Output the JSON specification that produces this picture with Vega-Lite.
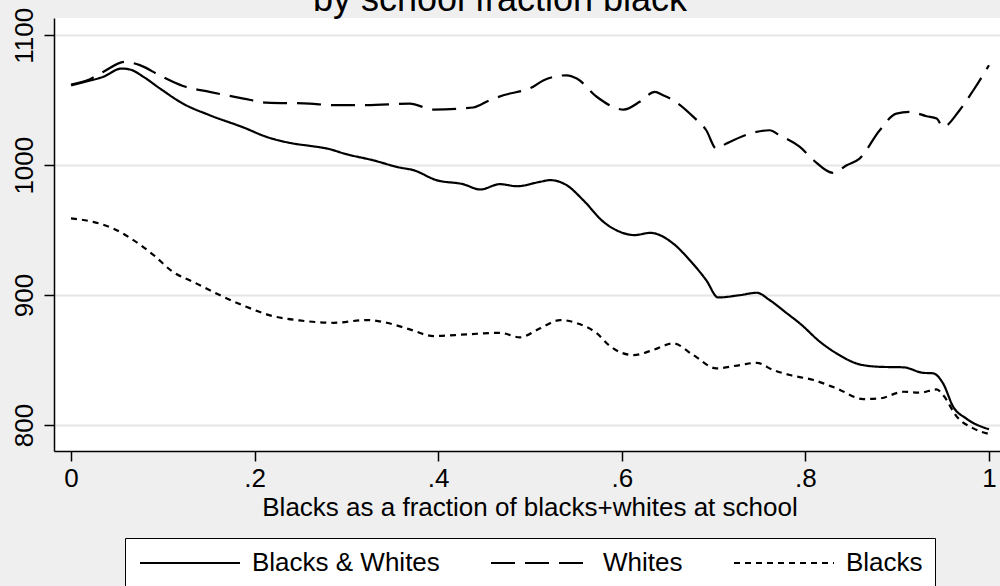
{
  "$schema": "https://vega.github.io/schema/vega-lite/v6.json",
  "autosize": {"type": "none"},
  "width": 946,
  "height": 433,
  "padding": {"left": 54, "top": 18, "right": 0, "bottom": 135},
  "background": "#efefef",
  "title": {
    "text": "by school fraction black",
    "font": "Liberation Sans",
    "fontSize": 36,
    "fontWeight": "normal",
    "color": "black",
    "anchor": "middle",
    "frame": "group",
    "baseline": "alphabetic",
    "dx": -27,
    "offset": -40
  },
  "config": {
    "view": {"fill": "white", "stroke": null},
    "font": "Liberation Sans",
    "axis": {
      "domainColor": "black",
      "domainWidth": 1.5,
      "tickColor": "black",
      "tickWidth": 1.5,
      "tickSize": 10,
      "labelFont": "Liberation Sans",
      "labelFontSize": 26,
      "labelColor": "black",
      "labelFlush": false,
      "labelOverlap": false,
      "titleFont": "Liberation Sans",
      "titleFontSize": 26,
      "titleFontWeight": "normal",
      "titleColor": "black"
    }
  },
  "data": {
    "values": [
      {"series": "Blacks & Whites", "frac": 0.000, "score": 1061.5},
      {"series": "Blacks & Whites", "frac": 0.020, "score": 1065},
      {"series": "Blacks & Whites", "frac": 0.035, "score": 1068},
      {"series": "Blacks & Whites", "frac": 0.055, "score": 1074.4},
      {"series": "Blacks & Whites", "frac": 0.065, "score": 1073.5},
      {"series": "Blacks & Whites", "frac": 0.079, "score": 1068},
      {"series": "Blacks & Whites", "frac": 0.097, "score": 1059},
      {"series": "Blacks & Whites", "frac": 0.122, "score": 1047.4},
      {"series": "Blacks & Whites", "frac": 0.151, "score": 1038.5},
      {"series": "Blacks & Whites", "frac": 0.188, "score": 1029},
      {"series": "Blacks & Whites", "frac": 0.213, "score": 1021.8},
      {"series": "Blacks & Whites", "frac": 0.242, "score": 1016.7},
      {"series": "Blacks & Whites", "frac": 0.260, "score": 1014.9},
      {"series": "Blacks & Whites", "frac": 0.279, "score": 1012.8},
      {"series": "Blacks & Whites", "frac": 0.300, "score": 1008.5},
      {"series": "Blacks & Whites", "frac": 0.329, "score": 1003.8},
      {"series": "Blacks & Whites", "frac": 0.358, "score": 998.2},
      {"series": "Blacks & Whites", "frac": 0.373, "score": 996.2},
      {"series": "Blacks & Whites", "frac": 0.398, "score": 988.5},
      {"series": "Blacks & Whites", "frac": 0.427, "score": 985.4},
      {"series": "Blacks & Whites", "frac": 0.446, "score": 981.3},
      {"series": "Blacks & Whites", "frac": 0.467, "score": 985.4},
      {"series": "Blacks & Whites", "frac": 0.486, "score": 983.8},
      {"series": "Blacks & Whites", "frac": 0.511, "score": 987.2},
      {"series": "Blacks & Whites", "frac": 0.522, "score": 988.5},
      {"series": "Blacks & Whites", "frac": 0.540, "score": 984.6},
      {"series": "Blacks & Whites", "frac": 0.558, "score": 973.1},
      {"series": "Blacks & Whites", "frac": 0.580, "score": 956.4},
      {"series": "Blacks & Whites", "frac": 0.598, "score": 948.7},
      {"series": "Blacks & Whites", "frac": 0.614, "score": 946.2},
      {"series": "Blacks & Whites", "frac": 0.631, "score": 947.9},
      {"series": "Blacks & Whites", "frac": 0.656, "score": 939.7},
      {"series": "Blacks & Whites", "frac": 0.674, "score": 926.9},
      {"series": "Blacks & Whites", "frac": 0.692, "score": 911.5},
      {"series": "Blacks & Whites", "frac": 0.705, "score": 898.2},
      {"series": "Blacks & Whites", "frac": 0.729, "score": 900},
      {"series": "Blacks & Whites", "frac": 0.747, "score": 901.8},
      {"series": "Blacks & Whites", "frac": 0.761, "score": 896.2},
      {"series": "Blacks & Whites", "frac": 0.780, "score": 885.9},
      {"series": "Blacks & Whites", "frac": 0.794, "score": 878.2},
      {"series": "Blacks & Whites", "frac": 0.816, "score": 864},
      {"series": "Blacks & Whites", "frac": 0.834, "score": 855.1},
      {"series": "Blacks & Whites", "frac": 0.859, "score": 846.7},
      {"series": "Blacks & Whites", "frac": 0.881, "score": 844.8},
      {"series": "Blacks & Whites", "frac": 0.907, "score": 844.4},
      {"series": "Blacks & Whites", "frac": 0.928, "score": 840.2},
      {"series": "Blacks & Whites", "frac": 0.939, "score": 839.8},
      {"series": "Blacks & Whites", "frac": 0.950, "score": 832},
      {"series": "Blacks & Whites", "frac": 0.961, "score": 814.1},
      {"series": "Blacks & Whites", "frac": 0.975, "score": 805.1},
      {"series": "Blacks & Whites", "frac": 1.000, "score": 796.7},

      {"series": "Whites", "frac": 0.000, "score": 1062},
      {"series": "Whites", "frac": 0.020, "score": 1066},
      {"series": "Whites", "frac": 0.035, "score": 1071.8},
      {"series": "Whites", "frac": 0.059, "score": 1079.5},
      {"series": "Whites", "frac": 0.075, "score": 1077},
      {"series": "Whites", "frac": 0.097, "score": 1069},
      {"series": "Whites", "frac": 0.122, "score": 1061},
      {"series": "Whites", "frac": 0.151, "score": 1056.4},
      {"series": "Whites", "frac": 0.188, "score": 1051.3},
      {"series": "Whites", "frac": 0.213, "score": 1048.2},
      {"series": "Whites", "frac": 0.260, "score": 1047.4},
      {"series": "Whites", "frac": 0.285, "score": 1046.2},
      {"series": "Whites", "frac": 0.322, "score": 1046.2},
      {"series": "Whites", "frac": 0.369, "score": 1047.4},
      {"series": "Whites", "frac": 0.395, "score": 1042.8},
      {"series": "Whites", "frac": 0.438, "score": 1044.4},
      {"series": "Whites", "frac": 0.456, "score": 1050},
      {"series": "Whites", "frac": 0.471, "score": 1053.8},
      {"series": "Whites", "frac": 0.503, "score": 1060.2},
      {"series": "Whites", "frac": 0.515, "score": 1065.4},
      {"series": "Whites", "frac": 0.540, "score": 1069.2},
      {"series": "Whites", "frac": 0.551, "score": 1066.7},
      {"series": "Whites", "frac": 0.573, "score": 1052.5},
      {"series": "Whites", "frac": 0.602, "score": 1042.8},
      {"series": "Whites", "frac": 0.620, "score": 1049},
      {"series": "Whites", "frac": 0.636, "score": 1056.4},
      {"series": "Whites", "frac": 0.645, "score": 1053.8},
      {"series": "Whites", "frac": 0.656, "score": 1050},
      {"series": "Whites", "frac": 0.678, "score": 1037.2},
      {"series": "Whites", "frac": 0.692, "score": 1026.9},
      {"series": "Whites", "frac": 0.703, "score": 1012.8},
      {"series": "Whites", "frac": 0.714, "score": 1016.7},
      {"series": "Whites", "frac": 0.740, "score": 1024.4},
      {"series": "Whites", "frac": 0.761, "score": 1026.9},
      {"series": "Whites", "frac": 0.772, "score": 1023},
      {"series": "Whites", "frac": 0.794, "score": 1014.1},
      {"series": "Whites", "frac": 0.809, "score": 1003.8},
      {"series": "Whites", "frac": 0.830, "score": 994.1},
      {"series": "Whites", "frac": 0.845, "score": 1000},
      {"series": "Whites", "frac": 0.859, "score": 1005.1},
      {"series": "Whites", "frac": 0.881, "score": 1026.9},
      {"series": "Whites", "frac": 0.899, "score": 1039.7},
      {"series": "Whites", "frac": 0.914, "score": 1041},
      {"series": "Whites", "frac": 0.932, "score": 1037.7},
      {"series": "Whites", "frac": 0.943, "score": 1035.9},
      {"series": "Whites", "frac": 0.950, "score": 1029.5},
      {"series": "Whites", "frac": 0.968, "score": 1042.3},
      {"series": "Whites", "frac": 0.983, "score": 1057.7},
      {"series": "Whites", "frac": 1.000, "score": 1076.9},

      {"series": "Blacks", "frac": 0.000, "score": 959},
      {"series": "Blacks", "frac": 0.024, "score": 956.4},
      {"series": "Blacks", "frac": 0.046, "score": 951.3},
      {"series": "Blacks", "frac": 0.068, "score": 942.3},
      {"series": "Blacks", "frac": 0.090, "score": 930.8},
      {"series": "Blacks", "frac": 0.111, "score": 917.9},
      {"series": "Blacks", "frac": 0.133, "score": 910.2},
      {"series": "Blacks", "frac": 0.162, "score": 900},
      {"series": "Blacks", "frac": 0.191, "score": 891},
      {"series": "Blacks", "frac": 0.220, "score": 883.8},
      {"series": "Blacks", "frac": 0.249, "score": 880.5},
      {"series": "Blacks", "frac": 0.286, "score": 878.7},
      {"series": "Blacks", "frac": 0.322, "score": 880.8},
      {"series": "Blacks", "frac": 0.344, "score": 878.7},
      {"series": "Blacks", "frac": 0.369, "score": 873.6},
      {"series": "Blacks", "frac": 0.395, "score": 868.5},
      {"series": "Blacks", "frac": 0.431, "score": 869.8},
      {"series": "Blacks", "frac": 0.467, "score": 871},
      {"series": "Blacks", "frac": 0.489, "score": 867.5},
      {"series": "Blacks", "frac": 0.511, "score": 874.4},
      {"series": "Blacks", "frac": 0.533, "score": 880.8},
      {"series": "Blacks", "frac": 0.554, "score": 877.7},
      {"series": "Blacks", "frac": 0.573, "score": 870.5},
      {"series": "Blacks", "frac": 0.587, "score": 860.8},
      {"series": "Blacks", "frac": 0.613, "score": 853.8},
      {"series": "Blacks", "frac": 0.634, "score": 857.7},
      {"series": "Blacks", "frac": 0.656, "score": 862.8},
      {"series": "Blacks", "frac": 0.678, "score": 853.8},
      {"series": "Blacks", "frac": 0.703, "score": 843.6},
      {"series": "Blacks", "frac": 0.729, "score": 846.2},
      {"series": "Blacks", "frac": 0.747, "score": 847.9},
      {"series": "Blacks", "frac": 0.765, "score": 842.3},
      {"series": "Blacks", "frac": 0.783, "score": 838.5},
      {"series": "Blacks", "frac": 0.809, "score": 834.6},
      {"series": "Blacks", "frac": 0.834, "score": 828.2},
      {"series": "Blacks", "frac": 0.863, "score": 820},
      {"series": "Blacks", "frac": 0.881, "score": 820.5},
      {"series": "Blacks", "frac": 0.907, "score": 825.6},
      {"series": "Blacks", "frac": 0.925, "score": 824.9},
      {"series": "Blacks", "frac": 0.943, "score": 827.4},
      {"series": "Blacks", "frac": 0.950, "score": 823},
      {"series": "Blacks", "frac": 0.965, "score": 806.4},
      {"series": "Blacks", "frac": 0.983, "score": 797.4},
      {"series": "Blacks", "frac": 1.000, "score": 793.1}
    ]
  },
  "mark": {"type": "line", "color": "black", "strokeWidth": 2.2, "interpolate": "monotone"},
  "encoding": {
    "x": {
      "field": "frac",
      "type": "quantitative",
      "scale": {"domain": [-0.0185, 1.012], "nice": false, "zero": false},
      "axis": {
        "values": [0, 0.2, 0.4, 0.6, 0.8, 1],
        "labelExpr": "datum.value === 0 ? '0' : datum.value === 1 ? '1' : '.' + format(datum.value * 10, 'd')",
        "labelPadding": 4,
        "grid": false,
        "title": "Blacks as a fraction of blacks+whites at school",
        "titleBaseline": "alphabetic",
        "titleAlign": "center",
        "titleX": 475.5,
        "titleY": 64
      }
    },
    "y": {
      "field": "score",
      "type": "quantitative",
      "scale": {"domain": [780, 1113.3], "nice": false, "zero": false},
      "axis": {
        "values": [800, 900, 1000, 1100],
        "format": "d",
        "labelAngle": 270,
        "labelAlign": "center",
        "labelBaseline": "alphabetic",
        "labelPadding": 12,
        "grid": true,
        "gridColor": "#e6e6e6",
        "gridWidth": 1.8,
        "title": null
      }
    },
    "strokeDash": {
      "field": "series",
      "type": "nominal",
      "scale": {
        "domain": ["Blacks & Whites", "Whites", "Blacks"],
        "range": [[1, 0], [24, 10], [6, 5]]
      },
      "legend": {
        "title": null,
        "orient": "none",
        "legendX": 71,
        "legendY": 520,
        "direction": "horizontal",
        "columns": 3,
        "columnPadding": 47,
        "fillColor": "white",
        "strokeColor": "black",
        "padding": 12,
        "cornerRadius": 0,
        "symbolType": "M-1,0L9,0",
        "symbolSize": 400,
        "symbolStrokeWidth": 2,
        "symbolStrokeColor": "black",
        "labelFont": "Liberation Sans",
        "labelFontSize": 26,
        "labelColor": "black",
        "labelOffset": 89,
        "labelLimit": 0
      }
    }
  }
}
